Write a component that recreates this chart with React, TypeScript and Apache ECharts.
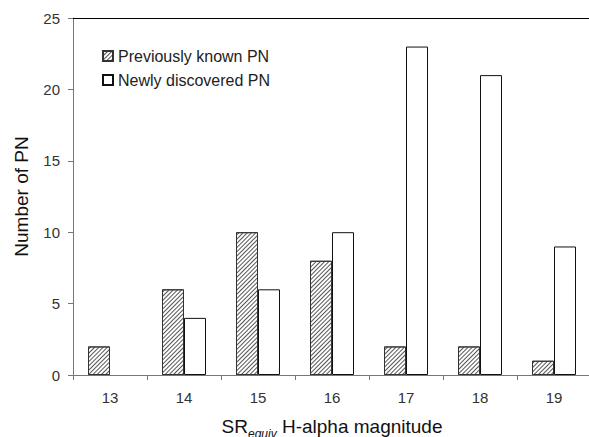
import React, { useEffect, useRef } from "react";
import * as echarts from "echarts";

const categories = ["13", "14", "15", "16", "17", "18", "19"];
const previouslyKnown = [2, 6, 10, 8, 2, 2, 1];
const newlyDiscovered = [0, 4, 6, 10, 23, 21, 9];
const seriesNames = ["Previously known PN", "Newly discovered PN"];

const FONT = "'Liberation Sans', Arial, sans-serif";

const toBarData = (vals: number[]) =>
  vals.map((v) => (v === 0 ? { value: v, itemStyle: { borderWidth: 0 } } : v));

export default function App() {
  const ref = useRef<HTMLDivElement>(null);
  useEffect(() => {
    if (!ref.current) return;
    const chart = echarts.init(ref.current, null, { renderer: "svg" });
    chart.setOption({
      animation: false,
      backgroundColor: "#ffffff",
      textStyle: { fontFamily: FONT },
      legend: {
        orient: "vertical",
        left: 97,
        top: 43,
        itemWidth: 10,
        itemHeight: 10,
        itemGap: 8,
        icon: "rect",
        textStyle: { fontSize: 16, color: "#222", fontFamily: FONT },
        data: seriesNames,
      },
      grid: { left: 73, top: 18, width: 518, height: 357, containLabel: false, outerBoundsMode: "none" },
      xAxis: [
        {
          type: "category",
          data: categories,
          position: "bottom",
          boundaryGap: true,
          axisLine: { show: true, lineStyle: { color: "#777", width: 1 } },
          axisTick: { show: true, length: 5, lineStyle: { color: "#777" } },
          axisLabel: { fontSize: 15, color: "#333", margin: 15, fontFamily: FONT },
          name: "{a|SR}{b|equiv}{a| H-alpha magnitude}",
          nameLocation: "middle",
          nameGap: 42,
          nameTextStyle: {
            rich: {
              a: { fontSize: 19, lineHeight: 22, verticalAlign: "top", color: "#111", fontFamily: FONT },
              b: { fontSize: 12, lineHeight: 12, padding: [11, 0, 0, 0], verticalAlign: "top", fontStyle: "italic", color: "#111", fontFamily: FONT },
            },
          },
        },
        {
          type: "category",
          data: categories,
          position: "top",
          axisLine: { show: true, lineStyle: { color: "#000", width: 1 } },
          axisTick: { show: false },
          axisLabel: { show: false },
        },
      ],
      yAxis: {
        type: "value",
        min: 0,
        max: 25,
        interval: 5,
        axisLine: { show: true, lineStyle: { color: "#777", width: 1 } },
        axisTick: { show: true, length: 5, lineStyle: { color: "#777" } },
        axisLabel: { fontSize: 15, color: "#333", margin: 13, fontFamily: FONT },
        splitLine: { show: false },
        name: "Number of PN",
        nameLocation: "middle",
        nameGap: 42,
        nameTextStyle: { fontSize: 19, color: "#111", fontFamily: FONT },
      },
      series: [
        {
          name: seriesNames[0],
          type: "bar",
          data: toBarData(previouslyKnown),
          barWidth: 22,
          barGap: "0%",
          itemStyle: {
            color: "#ffffff",
            borderColor: "#333",
            borderWidth: 1,
            decal: {
              symbol: "rect",
              symbolSize: 1,
              dashArrayX: [[1, 0]],
              dashArrayY: [1, 1.2],
              rotation: -Math.PI / 4,
              color: "#555",
            },
          },
        },
        {
          name: seriesNames[1],
          type: "bar",
          data: toBarData(newlyDiscovered),
          barWidth: 22,
          barGap: "0%",
          itemStyle: { color: "#ffffff", borderColor: "#111", borderWidth: 1 },
        },
      ],
    });
    return () => chart.dispose();
  }, []);
  return (
    <div
      ref={ref}
      style={{ position: "fixed", left: 0, top: 0, width: 589, height: 437 }}
    />
  );
}
